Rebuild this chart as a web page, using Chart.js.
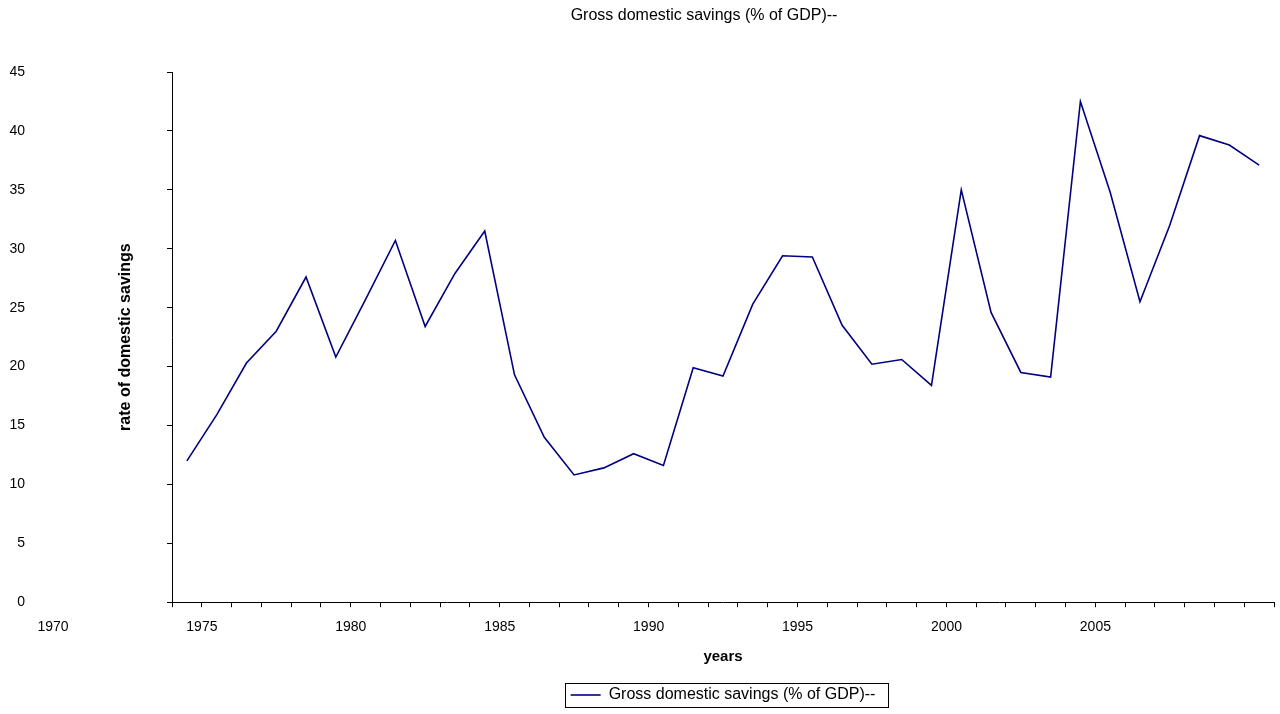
<!DOCTYPE html>
<html lang="en">
<head>
    <meta charset="UTF-8">
    <title>Gross domestic savings (% of GDP)</title>
    <script src="https://cdn.jsdelivr.net/npm/chart.js"></script>
    <style>
        body {
            margin: 0;
            padding: 0;
            background-color: #ffffff;
        }

        #chart-box {
            width: 1280px;
            height: 714px;
        }
    </style>
</head>
<body>
    <div id="chart-box">
        <canvas id="savings-chart"></canvas>
    </div>
    <script>
        const years = [1975, 1976, 1977, 1978, 1979, 1980, 1981, 1982, 1983, 1984,
                       1985, 1986, 1987, 1988, 1989, 1990, 1991, 1992, 1993, 1994,
                       1995, 1996, 1997, 1998, 1999, 2000, 2001, 2002, 2003, 2004,
                       2005, 2006, 2007, 2008, 2009, 2010, 2011];
        const savings = [12.0, 15.9, 20.3, 23.0, 27.6, 20.8, 25.7, 30.7, 23.4, 27.9,
                         31.5, 19.3, 14.0, 10.8, 11.4, 12.6, 11.6, 19.9, 19.2, 25.3,
                         29.4, 29.3, 23.5, 20.2, 20.6, 18.4, 35.0, 24.6, 19.5, 19.1,
                         42.5, 34.8, 25.5, 32.0, 39.6, 38.8, 37.1];
        const labelYears = [1970, 1975, 1980, 1985, 1990, 1995, 2000, 2005];

        const seriesName = "Gross domestic savings (% of GDP)--";
        const fontFamily = "'Liberation Sans', Arial, sans-serif";
        const lineColor = "#000080";
        const halfCat = 15; // labels sit on the tick marks, not the points
        const xTickPad = 12;

        // extra text that Chart.js can't place where Excel put it
        const extras = {
            id: "extras",
            afterDraw(chart) {
                const ctx = chart.ctx;
                const area = chart.chartArea;
                const xScale = chart.scales.x;
                ctx.save();
                ctx.fillStyle = "#000";

                // chart title
                ctx.font = "16px " + fontFamily;
                ctx.textAlign = "center";
                ctx.textBaseline = "alphabetic";
                ctx.fillText(seriesName, 704, 20);

                // y axis title
                ctx.font = "bold 16px " + fontFamily;
                ctx.translate(126, (area.top + area.bottom) / 2);
                ctx.rotate(-Math.PI / 2);
                ctx.textBaseline = "middle";
                ctx.fillText("rate of domestic savings", 0, 0);
                ctx.setTransform(1, 0, 0, 1, 0, 0);

                // year labels left of the first category
                ctx.font = "14px " + fontFamily;
                ctx.textBaseline = "middle";
                const labelY = xScale.top + 5 + xTickPad + 14 * 1.2 / 2;
                labelYears.forEach(y => {
                    const idx = y - years[0];
                    if (idx < 0) {
                        ctx.fillText(String(y), xScale.getPixelForValue(idx) + halfCat, labelY);
                    }
                });

                // box round the legend
                const hit = chart.legend.legendHitBoxes[0];
                if (hit) {
                    ctx.strokeStyle = "#000";
                    ctx.lineWidth = 1;
                    ctx.strokeRect(Math.round(hit.left - 6) + 0.5, Math.round(hit.top - 4) + 0.5,
                                   Math.round(hit.width + 18), Math.round(hit.height + 8));
                }
                ctx.restore();
            }
        };

        new Chart(document.getElementById("savings-chart"), {
            type: "line",
            data: {
                labels: years,
                datasets: [{
                    label: seriesName,
                    data: savings,
                    borderColor: lineColor,
                    backgroundColor: lineColor,
                    borderWidth: 1.6,
                    pointRadius: 0,
                    pointStyle: "line",
                    pointBorderColor: lineColor,
                    pointBorderWidth: 1.6,
                    tension: 0
                }]
            },
            options: {
                responsive: true,
                maintainAspectRatio: false,
                animation: false,
                layout: {
                    padding: { left: 0, right: 6, top: 72, bottom: 1 }
                },
                plugins: {
                    title: { display: false },
                    tooltip: { enabled: false },
                    legend: {
                        position: "bottom",
                        fullSize: false,
                        labels: {
                            usePointStyle: true,
                            pointStyleWidth: 30,
                            color: "#000",
                            padding: 10,
                            font: { family: fontFamily, size: 16 }
                        }
                    }
                },
                scales: {
                    x: {
                        type: "category",
                        offset: true,
                        border: { color: "#000", width: 1 },
                        grid: {
                            offset: true,
                            drawOnChartArea: false,
                            drawTicks: true,
                            tickLength: 5,
                            tickColor: "#000"
                        },
                        ticks: {
                            autoSkip: false,
                            maxRotation: 0,
                            minRotation: 0,
                            padding: xTickPad,
                            labelOffset: halfCat,
                            color: "#000",
                            font: { family: fontFamily, size: 14 },
                            callback: function (value, index) {
                                const y = years[index];
                                return labelYears.includes(y) ? String(y) : "";
                            }
                        },
                        title: {
                            display: true,
                            text: "years",
                            color: "#000",
                            padding: { top: 0, bottom: 11 },
                            font: { family: fontFamily, size: 15, weight: "bold" }
                        }
                    },
                    y: {
                        min: 0,
                        max: 45,
                        border: { color: "#000", width: 1 },
                        grid: {
                            drawOnChartArea: false,
                            drawTicks: true,
                            tickLength: 5,
                            tickColor: "#000"
                        },
                        ticks: {
                            stepSize: 5,
                            padding: 142,
                            color: "#000",
                            font: { family: fontFamily, size: 14 }
                        },
                        afterFit: function (scale) {
                            // the wide label padding must not push the plot down
                            scale.width = 172;
                            scale.paddingTop = 8;
                            scale.paddingBottom = 8;
                        }
                    }
                }
            },
            plugins: [extras]
        });
    </script>
</body>
</html>
